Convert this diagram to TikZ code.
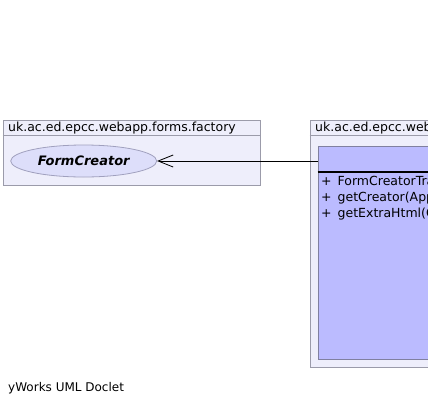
\documentclass[tikz,border=0pt]{standalone}
\usepackage{fontspec}
\setmainfont{DejaVu Sans}
\usetikzlibrary{shapes.geometric,arrows.meta,calc}
\definecolor{pkgfill}{RGB}{238,238,251}
\definecolor{pkgdraw}{RGB}{155,155,170}
\definecolor{ellfill}{RGB}{221,222,250}
\definecolor{elldraw}{RGB}{160,160,190}
\definecolor{clsfill}{RGB}{187,187,255}
\definecolor{clsdraw}{RGB}{128,128,160}
\tikzset{
  pkgbox/.style={draw=pkgdraw, fill=pkgfill, line width=0.8pt, rectangle, inner sep=0pt, anchor=north west},
  pkgtitle/.style={anchor=base west, inner sep=0pt, font=\fontsize{12.5}{14}\selectfont},
  ifacebox/.style={draw=elldraw, fill=ellfill, line width=0.8pt, ellipse, inner sep=0pt, font=\fontsize{13}{14}\selectfont\bfseries\itshape},
  clsbox/.style={draw=clsdraw, fill=clsfill, line width=0.8pt, rectangle, inner sep=0pt, anchor=north west},
  member/.style={anchor=base west, inner sep=0pt, font=\fontsize{12.5}{14}\selectfont},
  realize/.style={line width=0.8pt, -{Straight Barb[length=15pt,width=12pt,line width=0.8pt]}}
}
\begin{document}
\begin{tikzpicture}[x=1pt,y=-1pt]
\useasboundingbox (0,0) rectangle (428,405);
\clip (0,0) rectangle (428,405);
% left package
\node[pkgbox, minimum width=257.5pt, minimum height=65.5pt] (pkgL) at (2.5,119.5) {};
\draw[pkgdraw, line width=0.8pt] (2.5,135.5) -- (260,135.5);
\node[pkgtitle] (pkgLt) at (8,131.5) {uk.ac.ed.epcc.webapp.forms.factory};
\node[ifacebox, minimum width=146pt, minimum height=32pt] (fc) at (83.7,161) {FormCreator};
% right package
\node[pkgbox, minimum width=140pt, minimum height=247pt] (pkgR) at (309.5,119.5) {};
\draw[pkgdraw, line width=0.8pt] (309.5,135.5) -- (450,135.5);
\node[pkgtitle] (pkgRt) at (315,131.5) {uk.ac.ed.epcc.web};
\node[clsbox, minimum width=130pt, minimum height=213.5pt] (cls) at (317.5,145.5) {};
\draw[line width=2pt] (317.5,171.5) -- (450,171.5);
\node[member] (m1) at (321,185.5) {+\hspace{6pt}FormCreatorTra};
\node[member] (m2) at (321,201.5) {+\hspace{6pt}getCreator(App};
\node[member] (m3) at (321,217.5) {+\hspace{6pt}getExtraHtml(C};
% connector
\draw[realize] (fc.east -| cls.west) -- (fc.east);
% footer
\node[anchor=base west, inner sep=0pt, font=\fontsize{12}{14}\selectfont] (footer) at (8,391) {yWorks UML Doclet};
\end{tikzpicture}
\end{document}
